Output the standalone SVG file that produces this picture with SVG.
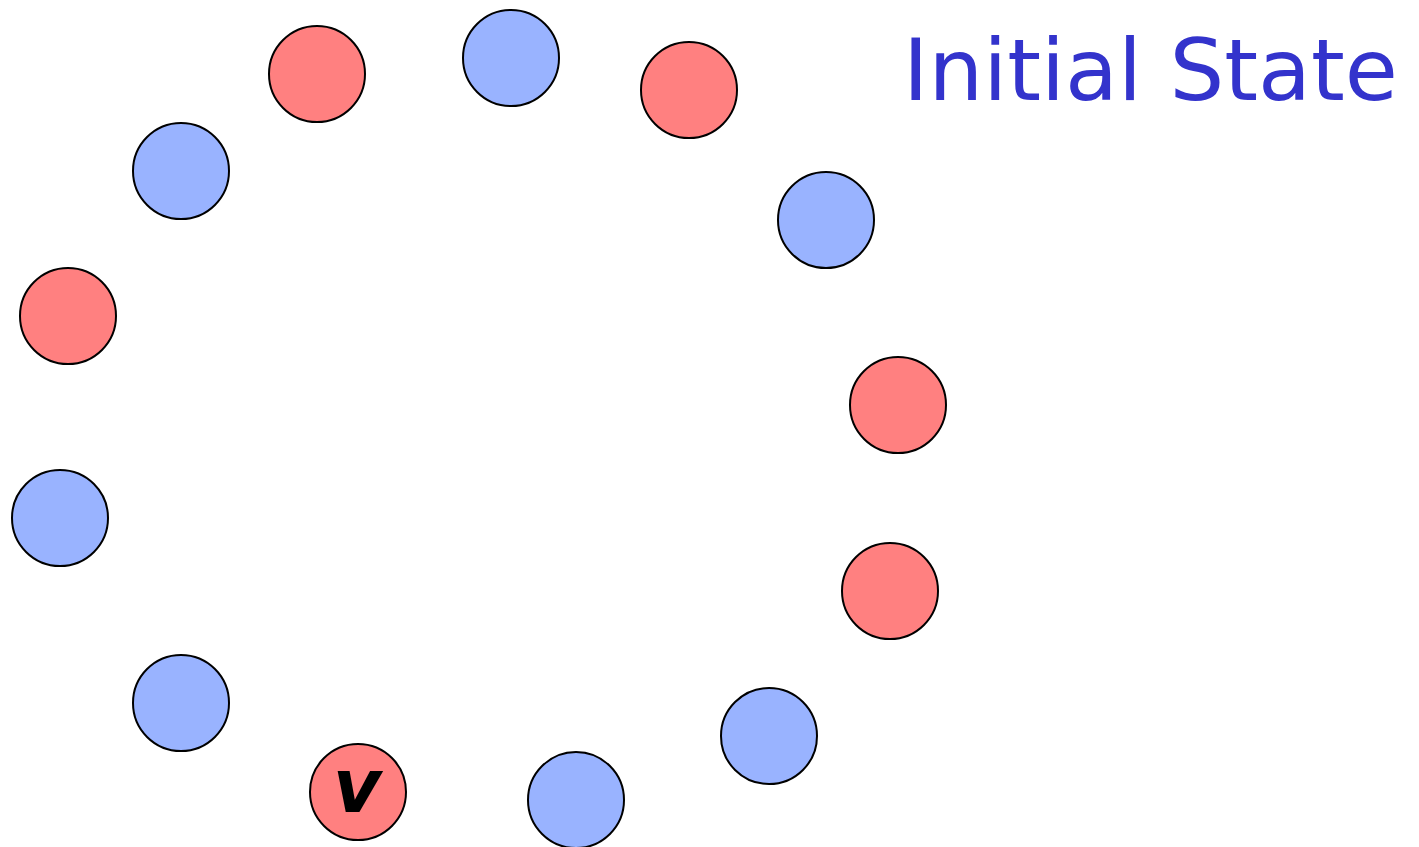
<svg xmlns="http://www.w3.org/2000/svg" width="1419" height="847" viewBox="0 0 1419 847">
  <style>
    .node { stroke: #000; stroke-width: 2; }
    .red { fill: #FF8080; }
    .blue { fill: #99B3FF; }
    .title { font-family: "Comic Sans MS", "DejaVu Sans", sans-serif; font-size: 86px; fill: #3333CC; }
    .lbl { font-family: "Comic Sans MS", "DejaVu Sans", sans-serif; font-size: 74px; font-weight: bold; font-style: italic; fill: #000; }
  </style>
  <rect width="1419" height="847" fill="#fff"/>
  <text class="title" x="903" y="100" textLength="495" lengthAdjust="spacingAndGlyphs">Initial State</text>
  <g id="connectors"></g>
  <g id="n1"><circle class="node red" cx="317" cy="74" r="48"/></g>
  <g id="n2"><circle class="node blue" cx="511" cy="58" r="48"/></g>
  <g id="n3"><circle class="node red" cx="689" cy="90" r="48"/></g>
  <g id="n4"><circle class="node blue" cx="181" cy="171" r="48"/></g>
  <g id="n5"><circle class="node blue" cx="826" cy="220" r="48"/></g>
  <g id="n6"><circle class="node red" cx="68" cy="316" r="48"/></g>
  <g id="n7"><circle class="node red" cx="898" cy="405" r="48"/></g>
  <g id="n8"><circle class="node blue" cx="60" cy="518" r="48"/></g>
  <g id="n9"><circle class="node red" cx="890" cy="591" r="48"/></g>
  <g id="n10"><circle class="node blue" cx="181" cy="703" r="48"/></g>
  <g id="n11"><circle class="node blue" cx="769" cy="736" r="48"/></g>
  <g id="v"><circle class="node red" cx="358" cy="792" r="48"/>
    <text class="lbl" x="357" y="812" text-anchor="middle">v</text></g>
  <g id="n13"><circle class="node blue" cx="576" cy="800" r="48"/></g>
</svg>
